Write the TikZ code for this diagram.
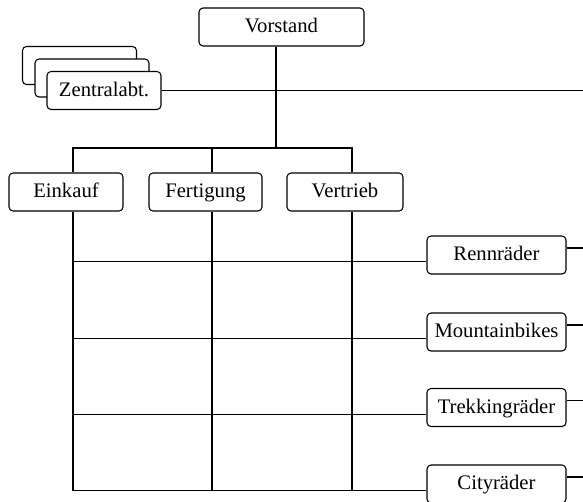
\documentclass[tikz,border=0pt]{standalone}
\usepackage{fontspec}
\setmainfont{Liberation Serif}
\usetikzlibrary{positioning}
\tikzset{
  orgbox/.style={draw, line width=0.8pt, rounded corners=3pt, fill=white,
    minimum height=28.5pt, inner sep=0pt, text height=11.5pt, text depth=3pt,
    font=\fontsize{15.5}{18}\selectfont},
  link/.style={line width=0.8pt}
}
\begin{document}
\begin{tikzpicture}[x=0.75pt,y=-0.75pt]
\useasboundingbox (0,0) rectangle (583,501);
\coordinate (rand) at (583,0);
% Leitung und Stab
\node[orgbox, minimum width=123.75pt] (vorstand) at (281.5,27) {Vorstand};
\node[orgbox, minimum width=85.5pt] (zentral3) at (79.5,65.5) {};
\node[orgbox, minimum width=85.5pt] (zentral2) at (92,78) {};
\node[orgbox, minimum width=85.5pt] (zentral) at (104,90.5) {Zentralabt.};
% Funktionen
\node[orgbox, minimum width=85.5pt] (einkauf) at (66,192) {Einkauf};
\node[orgbox, minimum width=84.75pt] (fertigung) at (205.5,192) {Fertigung};
\node[orgbox, minimum width=87pt] (vertrieb) at (345,192) {Vertrieb};
\coordinate (ek) at (73,148);
\coordinate (fg) at (212,148);
\coordinate (vt) at (352,148);
\coordinate (verteiler) at (276,148);
% Produkte
\foreach \name/\txt/\y in {renn/Rennräder/255, mtb/Mountainbikes/332,
    trekking/Trekkingräder/407.5, city/Cityräder/484}{
  \node[orgbox, minimum width=104.25pt] (\name) at (496.5,\y) {\txt};
  \coordinate (\name-in) at ([yshift=-4.9pt]\name.west);
  \coordinate (\name-out) at ([yshift=5.25pt]\name.east);
}

\draw[link] (zentral.east) -- (zentral.east -| rand);
\draw[link] (vorstand.south -| verteiler) -- (verteiler);
\draw[link] (ek |- einkauf.north) -- (ek) -- (vt) -- (vt |- vertrieb.north);
\draw[link] (fg) -- (fg |- fertigung.north);
\draw[link] (ek |- einkauf.south) |- (city-in);
\draw[link] (fg |- fertigung.south) -- (fg |- city-in);
\draw[link] (vt |- vertrieb.south) -- (vt |- city-in);
\foreach \name in {renn, mtb, trekking}{
  \draw[link] (ek |- \name-in) -- (\name-in);
}
\foreach \name in {renn, mtb, trekking, city}{
  \draw[link] (\name-out) -- (\name-out -| rand);
}
\end{tikzpicture}
\end{document}
